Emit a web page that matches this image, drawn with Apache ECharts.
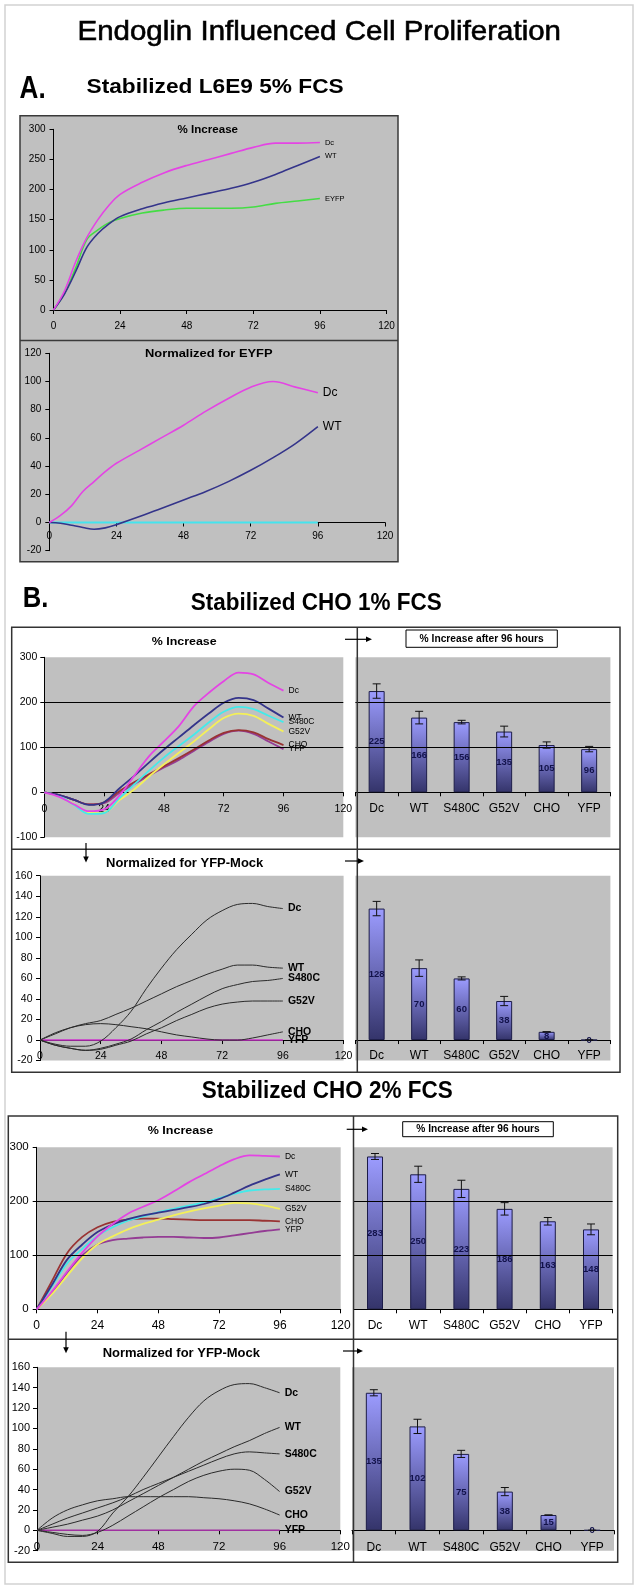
<!DOCTYPE html>
<html><head><meta charset="utf-8">
<script src="https://cdn.jsdelivr.net/npm/echarts@6/dist/echarts.min.js"></script>
<style>html,body{margin:0;padding:0;background:#fff}#c{width:640px;height:1591px}</style>
</head><body><div id="c"></div>
<script>
// ---------------- DATA ----------------
const hoursA = [0,4,8,12,16,20,24,32,40,48,56,64,72,80,88,96];
// A. L6E9 5% FCS, % increase
const aDc   = [0,32,80,120,150,174,192,212,228,240,250,260,270,277,277,278];
const aWT   = [0,27,64,104,127,143,155,168,178,186,194,202,212,225,240,255];
const aEYFP = [0,28,70,117,133,145,152,161,166,169,169,169,171,177,181,185];
// A. normalized for EYFP
const anDc   = [0,5,12,22,29,36,42,51,60,69,79,88,96,100,96,92];
const anWT   = [0,-0.5,-2,-3.5,-4.8,-3.8,-1.5,4,10,16,22,29,37,46,56,68];
const anEYFP = [0,0,0,0,0,0,0,0,0,0,0,0,0,0,0,0];

const hoursB = [0,6,12,18,24,30,36,42,48,54,60,66,72,78,84,90,96];
const seriesNames = ['Dc','WT','S480C','G52V','CHO','YFP'];
// CHO 1% FCS, % increase
const b1 = {
  Dc:    [0,-10,-27,-42,-38,-8,36,80,113,147,191,221,247,266,262,243,226],
  WT:    [0,-6,-17,-28,-22,8,36,66,95,122,149,175,199,210,205,186,166],
  S480C: [0,-8,-28,-48,-46,-14,17,48,77,103,128,155,179,190,185,170,156],
  G52V:  [0,-8,-27,-46,-45,-18,6,35,62,88,113,140,165,175,170,152,135],
  CHO:   [0,-6,-17,-27,-22,2,22,40,58,76,95,115,132,138,133,118,105],
  YFP:   [0,-6,-17,-27,-24,-2,18,37,55,72,92,112,130,137,130,113,96]
};
// CHO 1% FCS, normalized for YFP-Mock
const b1n = {
  Dc:    [0,-4,-6,-6,-1,12,28,50,70,88,103,117,126,132,133,130,128],
  WT:    [0,6,12,16,19,25,31,38,45,52,58,64,69,73,73,71,70],
  S480C: [0,-5,-8,-10,-8,-4,1,10,18,27,35,43,50,54,57,58,60],
  G52V:  [0,-5,-8,-10,-9,-5,-1,6,12,19,25,31,35,37,38,38,38],
  CHO:   [0,7,12,15,16,15,13,11,8,5,3,1,0,0,2,5,8],
  YFP:   [0,0,0,0,0,0,0,0,0,0,0,0,0,0,0,0,0]
};
// CHO 2% FCS, % increase
const c1 = {
  Dc:    [0,33,70,105,135,158,177,190,202,218,235,250,265,278,285,284,283],
  WT:    [0,45,92,120,143,157,167,174,179,184,189,195,204,216,229,240,250],
  S480C: [0,42,85,112,136,152,164,172,180,186,192,198,206,214,220,222,223],
  G52V:  [0,28,62,95,120,135,148,158,166,174,181,187,192,197,196,192,186],
  CHO:   [0,52,104,134,152,162,166,168,168,167,166,165,165,165,165,164,163],
  YFP:   [0,30,68,100,120,128,131,133,134,134,133,132,133,137,141,145,148]
};
// CHO 2% FCS, normalized for YFP-Mock
const c1n = {
  Dc:    [0,-3,-6,-6,-1,17,33,52,72,92,111,127,137,143,144,140,135],
  WT:    [0,3,6,10,14,20,28,36,44,52,60,68,75,82,88,95,101],
  S480C: [0,6,12,17,22,27,33,40,46,52,58,64,70,75,77,76,75],
  G52V:  [0,-2,-4,-5,-2,5,14,23,32,40,48,54,58,60,59,50,38],
  CHO:   [0,12,20,25,29,31,33,33,33,33,33,32,31,29,26,21,15],
  YFP:   [0,0,0,0,0,0,0,0,0,0,0,0,0,0,0,0,0]
};
// bar charts: value after 96 h and error half-width
const bar1Val = [225,166,156,135,105,96];
const bar1Err = [16,14,4,12,7,6];
const bar1nVal = [128,70,60,38,8,0];
const bar1nErr = [7,8,1.5,4.5,0,0];
const bar2Val = [283,250,223,186,163,148];
const bar2Err = [5.5,15,16,11.5,7,10];
const bar2nVal = [135,102,75,38,15,0];
const bar2nErr = [3,7,3.5,4,0,0];

// ---------------- STYLE / LAYOUT ----------------
const FF = '"Liberation Sans", Arial, Helvetica, sans-serif';
const COL = {Dc:'#e444e4', WT:'#34348a', S480C:'#44eaea', G52V:'#f4f058', CHO:'#993333', YFP:'#943c94'};
const GRAY = '#c0c0c0';

const chart = echarts.init(document.getElementById('c'), null, {renderer:'canvas', width:640, height:1591});

const grids = [
  {left:53.5, top:129.3, width:333, height:180.7},           // 0 A1
  {left:49.3, top:353.3, width:335.7, height:197.4},         // 1 A2
  {left:44.3, top:657.3, width:299, height:180, show:true, backgroundColor:GRAY, borderWidth:0},  // 2 B1L
  {left:355.4, top:657.3, width:255, height:180, show:true, backgroundColor:GRAY, borderWidth:0}, // 3 B1R
  {left:40, top:875.7, width:303.6, height:184.9, show:true, backgroundColor:GRAY, borderWidth:0},// 4 B2L
  {left:355.4, top:875.7, width:255, height:184.9, show:true, backgroundColor:GRAY, borderWidth:0},// 5 B2R
  {left:36.7, top:1147.3, width:304, height:162, show:true, backgroundColor:GRAY, borderWidth:0}, // 6 C1L
  {left:353.4, top:1147.3, width:259.2, height:162, show:true, backgroundColor:GRAY, borderWidth:0},// 7 C1R
  {left:37, top:1367.3, width:303.3, height:183.4, show:true, backgroundColor:GRAY, borderWidth:0}, // 8 C2L
  {left:352, top:1367.3, width:262, height:183.4, show:true, backgroundColor:GRAY, borderWidth:0}  // 9 C2R
];
// y ranges per grid: [min, max, interval]
const yr = [[0,300,50],[-20,120,20],[-100,300,100],[-100,300,100],[-20,160,20],[-20,160,20],
            [0,300,100],[0,300,100],[-20,160,20],[-20,160,20]];
// shift the x axis up so that it sits on the zero line of the value axis
function zeroOffset(g){ const r = yr[g]; return -grids[g].height * (0 - r[0]) / (r[1] - r[0]); }

function valX(g, fs, margin) {
  return {type:'value', gridIndex:g, min:0, max:120, interval:24, position:'bottom', offset:zeroOffset(g),
    axisLine:{show:true, onZero:false, lineStyle:{color:'#000', width:1}},
    axisTick:{show:true, length:4, lineStyle:{color:'#000'}},
    axisLabel:{fontSize:fs, color:'#000', margin:margin, fontFamily:FF},
    splitLine:{show:false}};
}
function valY(g, fs, margin, show) {
  const r = yr[g];
  return {type:'value', gridIndex:g, min:r[0], max:r[1], interval:r[2], show:show!==false,
    axisLine:{show:true, lineStyle:{color:'#000', width:1}},
    axisTick:{show:true, length:4, lineStyle:{color:'#000'}},
    axisLabel:{fontSize:fs, color:'#000', margin:margin, fontFamily:FF},
    splitLine:{show:false}};
}
function catX(g, fs, margin) {
  return {type:'category', gridIndex:g, data:seriesNames, position:'bottom', offset:zeroOffset(g),
    axisLine:{show:true, onZero:false, lineStyle:{color:'#000', width:1}},
    axisTick:{show:true, length:4, alignWithLabel:false, lineStyle:{color:'#000'}},
    axisLabel:{fontSize:fs, color:'#000', margin:margin, fontFamily:FF, interval:0},
    splitLine:{show:false}};
}

const xAxes = [
  valX(0,10,11), valX(1,10,9),
  valX(2,10.5,11), catX(3,12,10),
  valX(4,10.5,11), catX(5,12,10),
  valX(6,12,10), catX(7,12,10),
  valX(8,11.5,11), catX(9,12,11)
];
const yAxes = [
  valY(0,10,8), valY(1,10,8),
  valY(2,10.5,7), valY(3,10,7,false),
  valY(4,10.5,7.5), valY(5,10,7,false),
  valY(6,11.5,8), valY(7,10,7,false),
  valY(8,11,7), valY(9,10,7,false)
];

const gridMark = {silent:true, symbol:'none', label:{show:false},
  lineStyle:{color:'#000', width:1.2, type:'solid'}, data:[{yAxis:100},{yAxis:200}]};

function line(name, hours, vals, g, color, width, lab, z) {
  return {type:'line', name:name, xAxisIndex:g, yAxisIndex:g,
    data: hours.map((h,i)=>[h, vals[i]]), smooth:0.35, symbol:'none', silent:true,
    lineStyle:{color:color, width:width}, itemStyle:{color:color}, z: z || 3,
    endLabel: lab ? Object.assign({show:true, formatter:'{a}', color:'#000', fontFamily:FF, distance:5}, lab) : {show:false}};
}
function bars(vals, g) {
  return {type:'bar', xAxisIndex:g, yAxisIndex:g, data:vals, barWidth:16, silent:true,
    itemStyle:{color:new echarts.graphic.LinearGradient(0,0,0,1,[{offset:0,color:'#9c9cff'},{offset:1,color:'#34346a'}]),
      borderColor:'#1c1c48', borderWidth:1},
    label:{show:true, position:'inside', fontSize:9.5, fontWeight:'bold', color:'#12124a', fontFamily:FF, formatter:'{c}'}};
}
function errs(vals, err, g) {
  return {type:'custom', xAxisIndex:g, yAxisIndex:g, silent:true, z:6,
    data: vals.map((v,i)=>[i, v-err[i], v+err[i]]),
    renderItem:(params, api)=>{
      const lo = api.coord([api.value(0), api.value(1)]);
      const hi = api.coord([api.value(0), api.value(2)]);
      const w = 4, st = {stroke:'#111', lineWidth:1};
      return {type:'group', children:[
        {type:'line', shape:{x1:hi[0], y1:hi[1], x2:lo[0], y2:lo[1]}, style:st},
        {type:'line', shape:{x1:hi[0]-w, y1:hi[1], x2:hi[0]+w, y2:hi[1]}, style:st},
        {type:'line', shape:{x1:lo[0]-w, y1:lo[1], x2:lo[0]+w, y2:lo[1]}, style:st}
      ]};
    }};
}

const series = [];
// Panel A
series.push(line('EYFP', hoursA, aEYFP, 0, '#44dd44', 1.6, {fontSize:7.5}));
series.push(line('WT', hoursA, aWT, 0, '#34348a', 1.6, {fontSize:7.5}));
series.push(line('Dc', hoursA, aDc, 0, '#e444e4', 1.6, {fontSize:7.5}));
series.push(line('EYFPn', hoursA, anEYFP, 1, '#44e4ee', 2, null));
series.push(line('WT', hoursA, anWT, 1, '#34348a', 1.6, {fontSize:12}));
series.push(line('Dc', hoursA, anDc, 1, '#e444e4', 1.6, {fontSize:12}));
// B upper left
['YFP','CHO','G52V','S480C','WT','Dc'].forEach((n,k)=>{
  const s = line(n, hoursB, b1[n], 2, COL[n], 1.8, {fontSize:8.5});
  if (k===0) s.markLine = gridMark;
  series.push(s);
});
// B upper right
const sb1 = bars(bar1Val, 3); sb1.markLine = gridMark; series.push(sb1);
series.push(errs(bar1Val, bar1Err, 3));
// B lower left
['YFP','CHO','G52V','S480C','WT','Dc'].forEach(n=>{
  const c = n==='YFP' ? '#cc33cc' : '#2a2a2a';
  series.push(line(n, hoursB, b1n[n], 4, c, n==='YFP'?1.6:1, {fontSize:10.5, fontWeight:'bold'}));
});
series.push(bars(bar1nVal, 5));
series.push(errs(bar1nVal, bar1nErr, 5));
// C upper left
['YFP','CHO','G52V','S480C','WT','Dc'].forEach((n,k)=>{
  const s = line(n, hoursB, c1[n], 6, COL[n], 1.8, {fontSize:8.5});
  if (k===0) s.markLine = gridMark;
  series.push(s);
});
const sc1 = bars(bar2Val, 7); sc1.markLine = gridMark; series.push(sc1);
series.push(errs(bar2Val, bar2Err, 7));
// C lower left
['YFP','CHO','G52V','S480C','WT','Dc'].forEach(n=>{
  const c = n==='YFP' ? '#a030a0' : '#2a2a2a';
  series.push(line(n, hoursB, c1n[n], 8, c, n==='YFP'?1.6:1, {fontSize:10.5, fontWeight:'bold'}));
});
series.push(bars(bar2nVal, 9));
series.push(errs(bar2nVal, bar2nErr, 9));

// ---------------- GRAPHICS (frames, titles, arrows) ----------------
const mctx = document.createElement('canvas').getContext('2d');
function fitText(text, weight, size, left, right, cy, strokeW) {
  const font = weight + ' ' + size + 'px "Liberation Sans"';
  mctx.font = font;
  const w = mctx.measureText(text).width;
  const st = {text:text, font:font, fill:'#000', textAlign:'left', textVerticalAlign:'middle', verticalAlign:'middle'};
  if (strokeW) { st.stroke = '#000'; st.lineWidth = strokeW; }
  return {type:'text', x:left, y:cy, scaleX:(right-left)/w, z:50, style:st};
}
function hline(x1,x2,y,w,c){return {type:'line', z:100, shape:{x1:x1,y1:y,x2:x2,y2:y}, style:{stroke:c||'#333', lineWidth:w||1.5}};}
function vline(x,y1,y2,w,c){return {type:'line', z:100, shape:{x1:x,y1:y1,x2:x,y2:y2}, style:{stroke:c||'#333', lineWidth:w||1.5}};}
function rightArrow(x1,x2,y){return [hline(x1,x2-5,y,1.2,'#000'),
  {type:'polygon', z:101, shape:{points:[[x2,y],[x2-6,y-2.8],[x2-6,y+2.8]]}, style:{fill:'#000'}}];}
function downArrow(x,y1,y2){return [vline(x,y1,y2-5,1.2,'#000'),
  {type:'polygon', z:101, shape:{points:[[x,y2],[x-2.8,y2-6],[x+2.8,y2-6]]}, style:{fill:'#000'}}];}
function titleBox(x1,y1,x2,y2,text){
  return [{type:'rect', z:100, shape:{x:x1,y:y1,width:x2-x1,height:y2-y1}, style:{fill:'#fff', stroke:'#000', lineWidth:1}},
    Object.assign(fitText(text,'bold',10.5,x1+(x2-x1)*0.09,x2-(x2-x1)*0.09,(y1+y2)/2),{z:102})];
}

const G = [];
G.push({type:'rect', z:-5, shape:{x:5,y:5,width:628,height:1579}, style:{fill:'#fff', stroke:'#d2d2d2', lineWidth:1.5}});
G.push(fitText('Endoglin Influenced Cell Proliferation','normal',28,77.5,561,32.5,0.6));
G.push(fitText('A.','bold',31,19.6,45.7,89));
G.push(fitText('Stabilized L6E9 5% FCS','bold',21,86.5,343.7,87.5));
// panel A box
G.push({type:'rect', z:-1, shape:{x:20,y:115.7,width:378,height:446}, style:{fill:GRAY, stroke:'none'}});
G.push({type:'rect', z:100, shape:{x:20,y:115.7,width:378,height:446}, style:{fill:'none', stroke:'#3a3a3a', lineWidth:1.5}});
G.push(hline(20,398,340.5,1.5,'#3a3a3a'));
G.push(fitText('% Increase','bold',10,177.6,238,130.7));
G.push(fitText('Normalized for EYFP','bold',11.5,145,272.6,354));
// panel B (1%)
G.push(fitText('B.','bold',30,22.7,48.3,599));
G.push(fitText('Stabilized CHO 1% FCS','bold',23,190.7,441.7,603.3));
G.push({type:'rect', z:100, shape:{x:11.7,y:627.3,width:608.3,height:445}, style:{fill:'none', stroke:'#333', lineWidth:1.5}});
G.push(vline(357.3,627.3,1072.3));
G.push(hline(11.7,620,849.3));
G.push(fitText('% Increase','bold',11,151.7,216.7,642));
G.push(fitText('Normalized for YFP-Mock','bold',12,106,263.3,863.3));
titleBox(406,630,557.3,647.3,'% Increase after 96 hours').forEach(e=>G.push(e));
rightArrow(345,372,639.3).forEach(e=>G.push(e));
rightArrow(345,364,861).forEach(e=>G.push(e));
downArrow(86,843,862.5).forEach(e=>G.push(e));
// panel C (2%)
G.push(fitText('Stabilized CHO 2% FCS','bold',23,201.7,452.7,1091.5));
G.push({type:'rect', z:100, shape:{x:8.3,y:1116,width:609.4,height:446.3}, style:{fill:'none', stroke:'#333', lineWidth:1.5}});
G.push(vline(353.5,1116,1562.3));
G.push(hline(8.3,617.7,1339.3));
G.push(fitText('% Increase','bold',11,147.7,213.3,1130.7));
G.push(fitText('Normalized for YFP-Mock','bold',12,102.7,260,1353.3));
titleBox(402.7,1121.7,553.3,1136.7,'% Increase after 96 hours').forEach(e=>G.push(e));
rightArrow(346.7,368,1129.3).forEach(e=>G.push(e));
rightArrow(343,363,1351).forEach(e=>G.push(e));
downArrow(66,1331.7,1353.3).forEach(e=>G.push(e));

chart.setOption({
  animation:false,
  backgroundColor:'#fff',
  textStyle:{fontFamily:FF},
  grid:grids, xAxis:xAxes, yAxis:yAxes, series:series,
  graphic:{elements:G}
});
</script></body></html>
